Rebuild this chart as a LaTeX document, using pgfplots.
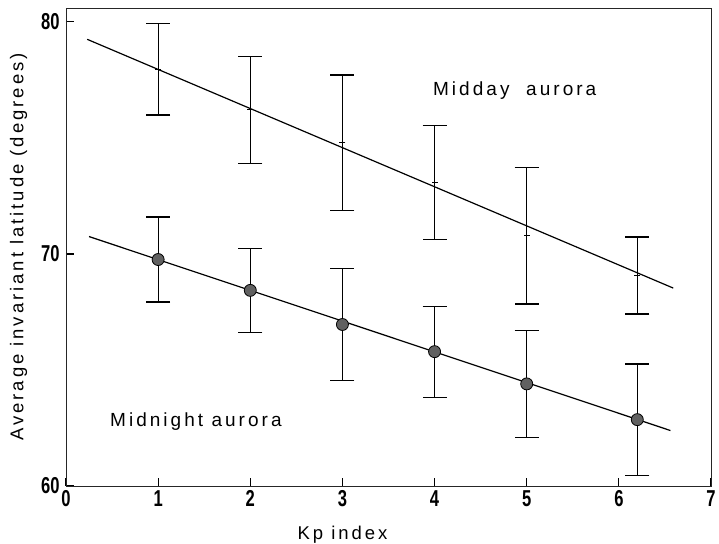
\documentclass[border=0pt]{standalone}
\usepackage{fontspec}
\usepackage{pgfplots}
\pgfplotsset{compat=1.18}
\setmainfont{Liberation Sans}
% narrow bold face for the tick numbers, tracked sans for the labels
\newfontfamily\tickfont[FakeStretch=0.72,UprightFont={* Bold}]{Liberation Sans}
\newfontfamily\labelfont[LetterSpace=16]{Liberation Sans}

\begin{document}
\begin{tikzpicture}
\begin{axis}[
  scale only axis,
  width=645pt, height=478pt,
  xmin=0, xmax=7, ymin=60, ymax=80.6,
  xtick={0,1,2,3,4,5,6,7},
  ytick={60,70,80},
  tick pos=left,
  tick align=inside,
  major tick length=8pt,
  axis line style={line width=0.9pt, black!85},
  tick style={line width=1.1pt, black},
  /pgf/number format/assume math mode=true,
  ticklabel style={font=\tickfont\fontsize{23}{23}\selectfont},
  xticklabel style={yshift=-1pt},
  yticklabel style={xshift=-3pt},
  xlabel={Kp index},
  ylabel={Average invariant latitude (degrees)},
  label style={font=\labelfont\fontsize{18.5}{20}\selectfont},
  xlabel style={xshift=-46pt, yshift=-12pt},
  ylabel style={yshift=7pt},
  clip=false,
]
% midday aurora: means with error bars
\addplot[black, line width=1.2pt, only marks, mark=-, mark size=3pt,
  error bars/.cd, y dir=both, y explicit,
  error bar style={line width=1.2pt},
  error mark options={line width=1.2pt, mark size=12pt, rotate=90}]
  coordinates {
    (1,77.96) +- (0,1.97)
    (2,76.21) +- (0,2.30)
    (3,74.79) +- (0,2.92)
    (4,73.07) +- (0,2.45)
    (5,70.79) +- (0,2.95)
    (6.2,69.07) +- (0,1.66)
  };
% midday regression line
\addplot[black, line width=1.2pt, no marks] coordinates {(0.23,79.25) (6.59,68.53)};

% midnight aurora: means with error bars
\addplot[black, line width=1.2pt, only marks, mark=*, mark size=6pt,
  mark options={fill=black!62, draw=black, line width=0.8pt},
  error bars/.cd, y dir=both, y explicit,
  error bar style={line width=1.2pt},
  error mark options={line width=1.2pt, mark size=12pt, rotate=90}]
  coordinates {
    (1,69.76) +- (0,1.83)
    (2,68.43) +- (0,1.80)
    (3,66.96) +- (0,2.40)
    (4,65.79) +- (0,1.96)
    (5,64.40) +- (0,2.30)
    (6.2,62.86) +- (0,2.40)
  };
% midnight regression line
\addplot[black, line width=1.2pt, no marks] coordinates {(0.25,70.75) (6.56,62.39)};

\node[font=\labelfont\fontsize{19}{20}\selectfont] at (axis cs:4.87,77.04) {Midday\ \ aurora};
\node[font=\labelfont\fontsize{19}{20}\selectfont] at (axis cs:1.41,62.77) {Midnight aurora};
\end{axis}
\pgfresetboundingbox
\path[use as bounding box] ([xshift=-66pt,yshift=-58pt]current axis.south west)
  rectangle ([xshift=8pt,yshift=8pt]current axis.north east);
\end{tikzpicture}
\end{document}
